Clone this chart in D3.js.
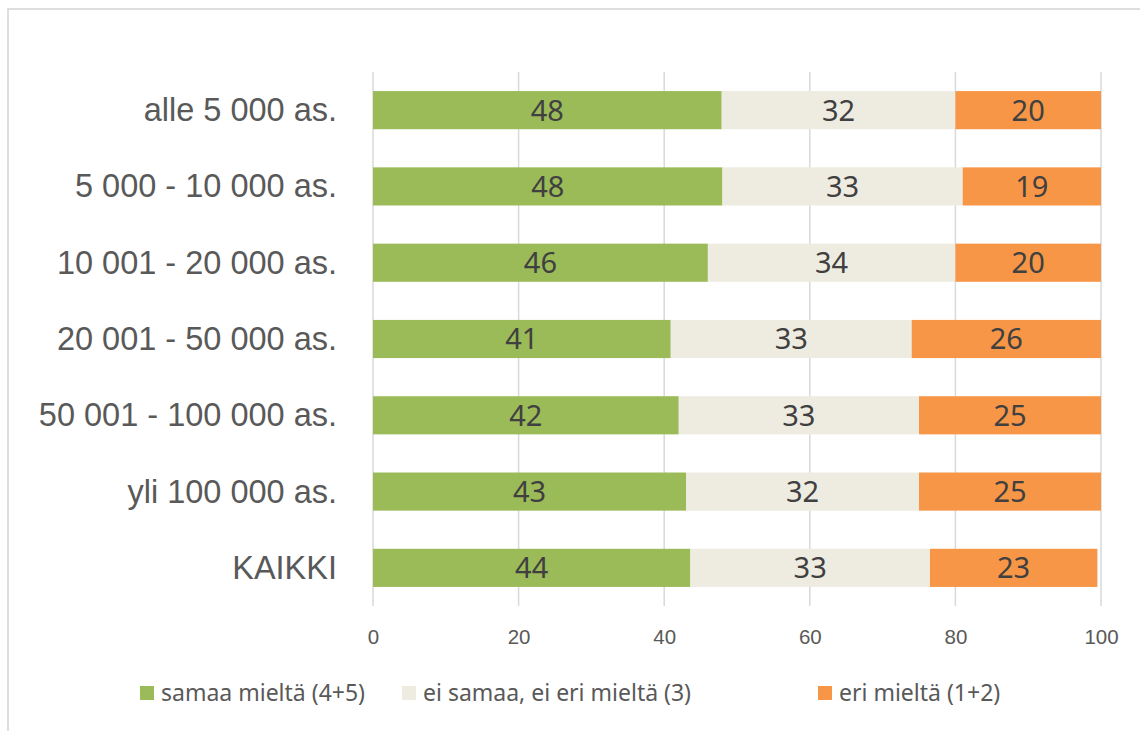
<!DOCTYPE html>
<html>
<head>
<meta charset="utf-8">
<script src="https://cdn.jsdelivr.net/npm/d3@7"></script>
<style>
  body { margin: 0; background: #fff; }
  svg { font-family: "Noto Sans", sans-serif; }
  .grid line { stroke: #d9d9d9; stroke-width: 1.5; }
  .tick text { fill: #595959; }
</style>
</head>
<body>
<svg id="chart"></svg>
<script>
var categories = ['alle 5 000 as.', '5 000 - 10 000 as.', '10 001 - 20 000 as.',
                  '20 001 - 50 000 as.', '50 001 - 100 000 as.', 'yli 100 000 as.', 'KAIKKI'];
var samaa   = [47.9, 48.0, 46.0, 40.9, 42.0, 43.0, 43.6];
var eiSamaa = [32.1, 33.0, 34.0, 33.1, 33.0, 32.0, 32.9];
var eri     = [20.0, 19.0, 20.0, 26.0, 25.0, 25.0, 23.0];
var seriesNames = ['samaa mieltä (4+5)', 'ei samaa, ei eri mieltä (3)', 'eri mieltä (1+2)'];
var colors = ['#9bbb59', '#eeece1', '#f79646'];
var xTicks = [0, 20, 40, 60, 80, 100];

var W = 1140, H = 731;
var margin = { top: 72, left: 373 };
var width = 728, height = 534;

var svg = d3.select('#chart').attr('width', W).attr('height', H);

// outer chart frame
svg.append('rect')
  .attr('x', 8).attr('y', 9).attr('width', W + 20).attr('height', H + 20)
  .attr('fill', '#fff').attr('stroke', '#d9d9d9').attr('stroke-width', 1.7);

var g = svg.append('g').attr('transform', 'translate(' + margin.left + ',' + margin.top + ')');

var rows = categories.map(function (c, i) {
  return { cat: c, s0: samaa[i], s1: eiSamaa[i], s2: eri[i] };
});

var x = d3.scaleLinear().domain([0, 100]).range([0, width]);
var y = d3.scaleBand().domain(categories).range([0, height])
  .paddingInner(0.5).paddingOuter(0.25);

// gridlines
g.append('g').attr('class', 'grid')
  .selectAll('line').data(xTicks).enter().append('line')
  .attr('x1', function (d) { return x(d); }).attr('x2', function (d) { return x(d); })
  .attr('y1', 0).attr('y2', height);

var stack = d3.stack().keys(['s0', 's1', 's2']);
var layers = stack(rows);

var layer = g.selectAll('.layer').data(layers).enter().append('g')
  .attr('fill', function (d, i) { return colors[i]; });

layer.selectAll('rect').data(function (d) { return d; }).enter().append('rect')
  .attr('x', function (d) { return x(d[0]); })
  .attr('y', function (d) { return y(d.data.cat); })
  .attr('width', function (d) { return x(d[1]) - x(d[0]); })
  .attr('height', y.bandwidth());

layer.selectAll('text').data(function (d) { return d; }).enter().append('text')
  .attr('x', function (d) { return (x(d[0]) + x(d[1])) / 2; })
  .attr('y', function (d) { return y(d.data.cat) + y.bandwidth() / 2; })
  .attr('dy', '0.36em')
  .attr('text-anchor', 'middle')
  .attr('fill', '#404040')
  .style('font-size', '29px')
  .text(function (d) { return Math.round(d[1] - d[0]); });

// x axis labels
var xAxis = d3.axisBottom(x).tickValues(xTicks).tickSize(0).tickPadding(0);
var xa = g.append('g').attr('transform', 'translate(0,' + (height + 31) + ')').call(xAxis);
xa.select('.domain').remove();
xa.selectAll('text').style('font-size', '20.5px').attr('dy', '0.36em').attr('y', 0);

// category labels
var yAxis = d3.axisLeft(y).tickSize(0).tickPadding(36);
var ya = g.append('g').call(yAxis);
ya.select('.domain').remove();
ya.selectAll('text').style('font-size', '32.5px').attr('dy', '0.34em');

// legend
var legendX = [140, 402, 818];
var lg = svg.selectAll('.legend').data(seriesNames).enter().append('g')
  .attr('transform', function (d, i) { return 'translate(' + legendX[i] + ',686)'; });
lg.append('rect').attr('width', 14).attr('height', 14)
  .attr('fill', function (d, i) { return colors[i]; });
lg.append('text').attr('x', 21).attr('y', 7).attr('dy', '0.36em')
  .attr('fill', '#595959').style('font-size', '23px')
  .text(function (d) { return d; });
</script>
</body>
</html>
